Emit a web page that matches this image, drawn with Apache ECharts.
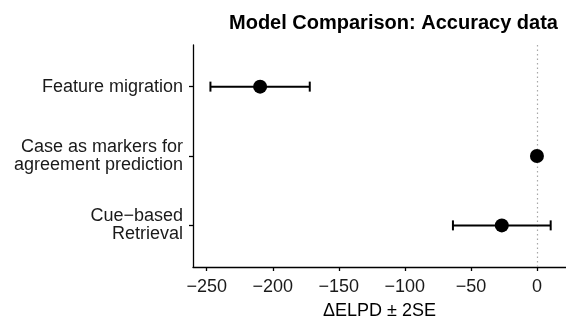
<!DOCTYPE html>
<html>
<head>
<meta charset="utf-8">
<script src="https://cdn.jsdelivr.net/npm/echarts@6/dist/echarts.min.js"></script>
<style>html,body{margin:0;padding:0;background:#fff}#c{width:566px;height:321px}</style>
</head>
<body>
<div id="c"></div>
<script>
const categories = ['Feature migration', 'Case as markers for\nagreement prediction', 'Cue\u2212based\nRetrieval'];
const estimate = [-209.6, 0, -26.6];
const lower = [-247.2, 0, -63.6];
const upper = [-172.0, 0, 10.4];
const xTicks = [-250, -200, -150, -100, -50, 0];
const yTicks = [1, 2, 3];

const FONT = '"Liberation Sans", Arial, Helvetica, sans-serif';
const chart = echarts.init(document.getElementById('c'), null, {renderer: 'canvas'});

const errData = categories.map((c, i) => [lower[i], upper[i], i + 1]);
const ptData = categories.map((c, i) => [estimate[i], i + 1]);

chart.setOption({
  animation: false,
  backgroundColor: '#fff',
  title: {
    text: 'Model Comparison: Accuracy data',
    left: 229, top: 13, padding: 0,
    textStyle: {fontFamily: FONT, fontSize: 20, fontWeight: 'bold', color: '#000'}
  },
  grid: {left: 193, right: 0, top: 45, bottom: 54, containLabel: false, outerBoundsMode: 'none'},
  xAxis: {
    type: 'value', min: -260.4, max: 22,
    name: '\u0394ELPD \u00b1 2SE', nameLocation: 'middle', nameGap: 35,
    nameTextStyle: {fontFamily: FONT, fontSize: 18, color: '#000'},
    axisLine: {show: true, onZero: false, lineStyle: {color: '#000', width: 1.3}},
    axisTick: {show: true, length: 4, customValues: xTicks, lineStyle: {color: '#000', width: 1.3}},
    axisLabel: {customValues: xTicks, fontFamily: FONT, fontSize: 18, color: '#1a1a1a', margin: 11,
      formatter: v => v < 0 ? '\u2212' + Math.abs(v) : String(v)},
    splitLine: {show: false}
  },
  yAxis: {
    type: 'value', min: 0.4, max: 3.6, inverse: true,
    axisLine: {show: true, onZero: false, lineStyle: {color: '#000', width: 1.3}},
    axisTick: {show: true, length: 4, customValues: yTicks, lineStyle: {color: '#000', width: 1.3}},
    axisLabel: {customValues: yTicks, fontFamily: FONT, fontSize: 18, color: '#1a1a1a', margin: 10,
      align: 'right', lineHeight: 18, padding: [3, 0, 0, 0],
      formatter: v => categories[Math.round(v) - 1] || ''},
    splitLine: {show: false}
  },
  series: [
    {
      type: 'custom',
      data: errData,
      renderItem: (params, api) => {
        const y = api.value(2);
        const p1 = api.coord([api.value(0), y]);
        const p2 = api.coord([api.value(1), y]);
        const h = 5;
        const style = {stroke: '#000', lineWidth: 2, fill: null};
        return {
          type: 'group',
          children: [
            {type: 'line', shape: {x1: p1[0], y1: p1[1], x2: p2[0], y2: p2[1]}, style},
            {type: 'line', shape: {x1: p1[0], y1: p1[1] - h, x2: p1[0], y2: p1[1] + h}, style},
            {type: 'line', shape: {x1: p2[0], y1: p2[1] - h, x2: p2[0], y2: p2[1] + h}, style}
          ]
        };
      },
      z: 3,
      markLine: {
        silent: true, symbol: 'none', label: {show: false}, z: 1,
        lineStyle: {color: '#a8a8a8', type: [1.5, 3], width: 1.2},
        data: [{xAxis: 0}]
      }
    },
    {
      type: 'scatter',
      data: ptData,
      symbol: 'circle',
      symbolSize: 14,
      itemStyle: {color: '#000', opacity: 1},
      z: 5
    }
  ]
});
</script>
</body>
</html>
